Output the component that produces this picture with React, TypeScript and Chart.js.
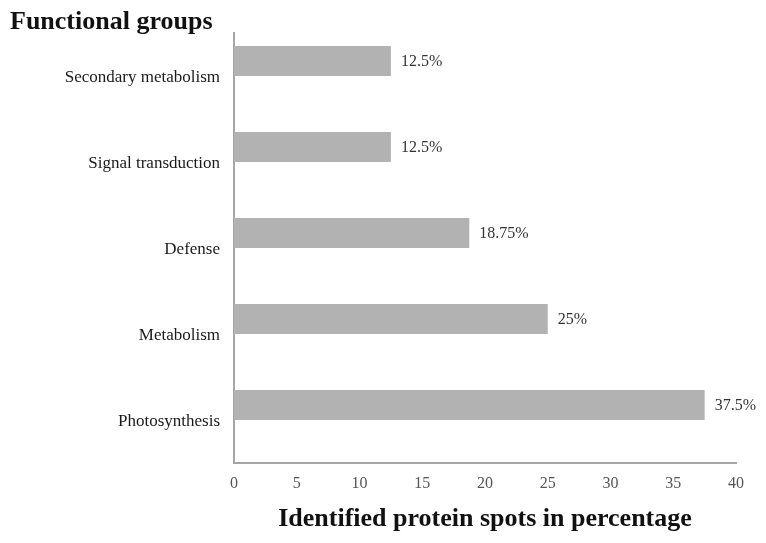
import React, { useEffect, useRef } from "react";
import { Chart, registerables } from "chart.js";

Chart.register(...registerables);

const categories = [
  "Secondary metabolism",
  "Signal transduction",
  "Defense",
  "Metabolism",
  "Photosynthesis",
];
const percentages = [12.5, 12.5, 18.75, 25, 37.5];
const emptySeries = [null, null, null, null, null];
const xTickMin = 0;
const xTickMax = 40;
const xTickStep = 5;
const yAxisTitle = "Functional groups";
const xAxisTitle = "Identified protein spots in percentage";

const SERIF = "'Liberation Serif', 'Times New Roman', serif";

const valueLabelPlugin = {
  id: "valueLabels",
  afterDatasetsDraw(chart: any) {
    const ctx = chart.ctx;
    const meta = chart.getDatasetMeta(0);
    const data = chart.data.datasets[0].data;
    ctx.save();
    ctx.font = `16px ${SERIF}`;
    ctx.fillStyle = "#333333";
    ctx.textAlign = "left";
    ctx.textBaseline = "middle";
    meta.data.forEach((bar: any, i: number) => {
      const v = data[i];
      if (v == null) return;
      ctx.fillText(`${v}%`, bar.x + 10, bar.y + 1);
    });
    ctx.restore();
  },
};

const cornerTitlePlugin = {
  id: "cornerTitle",
  afterDraw(chart: any) {
    const ctx = chart.ctx;
    ctx.save();
    ctx.font = `bold 26px ${SERIF}`;
    ctx.fillStyle = "#111111";
    ctx.textAlign = "left";
    ctx.textBaseline = "middle";
    ctx.fillText(yAxisTitle, 10, 22);
    ctx.restore();
  },
};

export default function App() {
  const canvasRef = useRef<HTMLCanvasElement | null>(null);

  useEffect(() => {
    if (!canvasRef.current) return;
    const chart = new Chart(canvasRef.current, {
      type: "bar",
      data: {
        labels: categories,
        datasets: [
          {
            data: percentages,
            backgroundColor: "#b2b2b2",
            borderWidth: 0,
            categoryPercentage: 0.7,
            barPercentage: 1,
          },
          {
            data: emptySeries as any,
            backgroundColor: "#b2b2b2",
            categoryPercentage: 0.7,
            barPercentage: 1,
          },
        ],
      },
      options: {
        indexAxis: "y",
        animation: false,
        responsive: false,
        maintainAspectRatio: false,
        layout: { padding: { top: 33, right: 30, left: 0, bottom: 0 } },
        plugins: {
          legend: { display: false },
          tooltip: { enabled: false },
          title: { display: false },
        },
        scales: {
          x: {
            type: "linear",
            min: xTickMin,
            max: xTickMax,
            ticks: {
              stepSize: xTickStep,
              padding: 11,
              color: "#555555",
              font: { family: SERIF, size: 16 },
            },
            grid: { display: false, drawTicks: false },
            border: { display: true, color: "#a6a6a6", width: 2 },
            title: {
              display: true,
              text: xAxisTitle,
              color: "#111111",
              font: { family: SERIF, size: 26, weight: "bold" },
              padding: { top: 0, bottom: 8 },
            },
            afterFit(scale: any) {
              scale.height = 80;
            },
          },
          y: {
            type: "category",
            ticks: {
              padding: 14,
              labelOffset: 2,
              color: "#1a1a1a",
              font: { family: SERIF, size: 17 },
            },
            grid: { display: false, drawTicks: false },
            border: { display: true, color: "#a6a6a6", width: 2 },
            afterFit(scale: any) {
              scale.width = 234;
            },
          },
        },
      },
      plugins: [valueLabelPlugin, cornerTitlePlugin],
    } as any);
    return () => chart.destroy();
  }, []);

  return (
    <div style={{ position: "fixed", left: 0, top: 0, width: 766, height: 543, background: "#ffffff" }}>
      <canvas ref={canvasRef} width={766} height={543} style={{ width: 766, height: 543 }} />
    </div>
  );
}
